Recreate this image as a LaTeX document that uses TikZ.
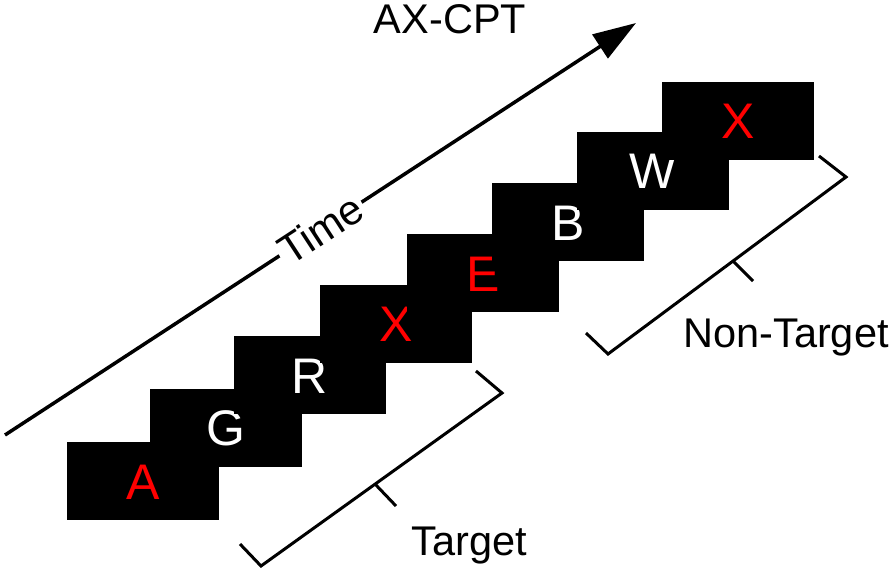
\documentclass[tikz,border=0pt]{standalone}
\usepackage{fontspec}
\setmainfont{Liberation Sans}
\usetikzlibrary{arrows.meta}
\begin{document}
\begin{tikzpicture}[x=1pt,y=-1pt,
  card/.style={fill=black,draw=none,minimum width=152pt,minimum height=78pt,inner sep=0pt,
    text height=36pt,text depth=0pt,font=\fontsize{50}{60}\selectfont},
  redl/.style={card,text=red},
  whitel/.style={card,text=white},
  lbl/.style={font=\fontsize{41.5}{48}\selectfont,anchor=base,inner sep=0pt},
  timearrow/.style={line width=3.5pt,-{Triangle[length=43pt,width=28pt]}},
  timelabel/.style={font=\fontsize{42}{48}\selectfont,fill=white,inner sep=3pt,sloped,
    text height=30pt,text depth=0pt},
  bracket/.style={line width=3pt,line join=miter}
]
\useasboundingbox (0,0) rectangle (894,571);
% cards
\node[redl]   (a)  at (143,481)   {A};
\node[whitel] (g)  at (226,427.5) {G};
\node[whitel] (r)  at (310,375)   {R};
\node[redl]   (x1) at (396,323.5) {X};
\node[redl]   (e)  at (483,273)   {E};
\node[whitel] (b)  at (568,222)   {B};
\node[whitel] (w)  at (653,170.5) {W};
\node[redl]   (x2) at (738,120.5) {X};
% time arrow
\coordinate (ts) at (5,435);
\coordinate (te) at (636,23);
\draw[timearrow] (ts) -- node[timelabel,pos=0.5] (time) {Time} (te);
\node[lbl] (title) at (450,33) {AX-CPT};
% target bracket
\coordinate (t1) at (240,544);
\coordinate (t2) at (261,566);
\coordinate (t3) at (502,393);
\coordinate (t4) at (476,371);
\coordinate (tm1) at (375,484);
\coordinate (tm2) at (396,506);
\draw[bracket] (t1) -- (t2) -- (t3) -- (t4);
\draw[bracket] (tm1) -- (tm2);
\node[lbl] (target) at (469,555) {Target};
% non-target bracket
\coordinate (n1) at (586,333);
\coordinate (n2) at (608,354);
\coordinate (n3) at (846,177);
\coordinate (n4) at (819,156);
\coordinate (nm1) at (733,261);
\coordinate (nm2) at (753,281);
\draw[bracket] (n1) -- (n2) -- (n3) -- (n4);
\draw[bracket] (nm1) -- (nm2);
\node[lbl] (nontarget) at (786,347) {Non-Target};
\end{tikzpicture}
\end{document}
